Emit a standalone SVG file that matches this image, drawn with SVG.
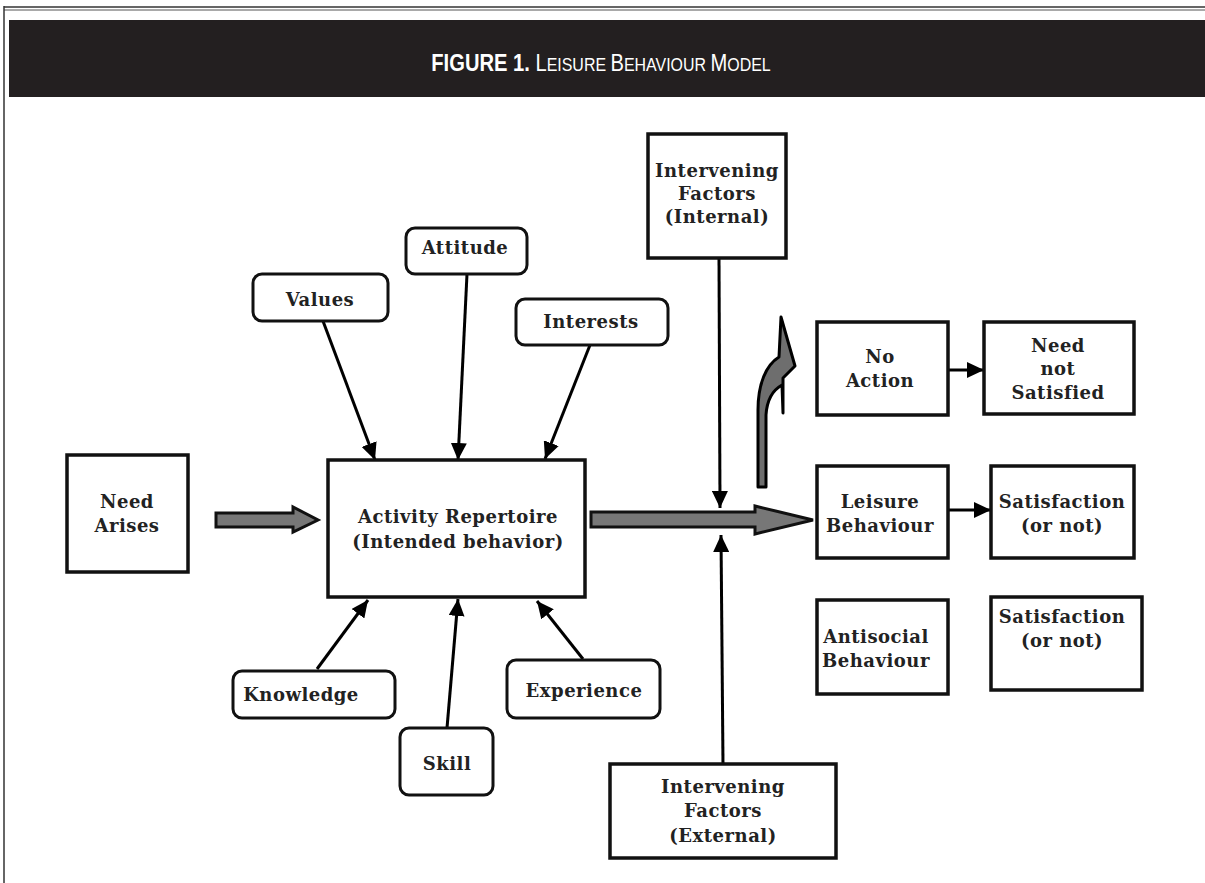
<svg xmlns="http://www.w3.org/2000/svg" width="1205" height="883" viewBox="0 0 1205 883">
<defs>
<marker id="ah" markerUnits="userSpaceOnUse" markerWidth="18" markerHeight="16" refX="17" refY="8" orient="auto">
<path d="M0,0 L17,8 L0,16 z" fill="#000"/>
</marker>
<style>
.box{fill:#fff;stroke:#111;stroke-width:3.5}
.rbox{fill:#fff;stroke:#111;stroke-width:3}
.t{font-family:"DejaVu Serif","Liberation Serif",serif;font-weight:bold;font-size:18px;letter-spacing:0.5px;fill:#222;text-anchor:middle}
.c{stroke:#000;stroke-width:3;fill:none;marker-end:url(#ah)}
.blk{fill:#777;stroke:#111;stroke-width:3;stroke-linejoin:miter}
</style>
</defs>
<rect width="1205" height="883" fill="#fff"/>
<g id="frame">
<line x1="4" y1="7" x2="1205" y2="7" stroke="#333" stroke-width="1.5"/>
<line x1="4" y1="10" x2="1205" y2="10" stroke="#555" stroke-width="1"/>
<line x1="4" y1="6" x2="4" y2="883" stroke="#333" stroke-width="1.5"/>
<rect x="9" y="20" width="1196" height="77" fill="#231f20"/>
<text transform="translate(601,71) scale(0.84,1)" x="0" y="0" fill="#fff" font-family="Liberation Sans, Arial, sans-serif" text-anchor="middle"><tspan font-weight="bold" font-size="24">FIGURE 1.</tspan><tspan font-size="24"> L</tspan><tspan font-size="19">EISURE </tspan><tspan font-size="24">B</tspan><tspan font-size="19">EHAVIOUR </tspan><tspan font-size="24">M</tspan><tspan font-size="19">ODEL</tspan></text>
</g>
<g id="connectors">
<polygon class="blk" points="216,513 293,513 293,507 318,520 293,532 293,527 216,527"/>
<polygon class="blk" points="591,512 755,512 755,506 813,520 755,534 755,527 591,527"/>
<path d="M758 487 L758 410 C758 384 766 365 779 357 L781 317 L795 366 L783 378 L783 413 L782 385 C773 390 767 399 766 415 L766 487 Z" fill="#6e6e6e" stroke="#000" stroke-width="3" stroke-linejoin="round"/>
<line class="c" x1="323" y1="321" x2="375" y2="460"/>
<line class="c" x1="467" y1="274" x2="458" y2="460"/>
<line class="c" x1="590" y1="345" x2="545" y2="459"/>
<line class="c" x1="317" y1="669" x2="368" y2="600"/>
<line class="c" x1="447" y1="728" x2="458" y2="599"/>
<line class="c" x1="583" y1="659" x2="537" y2="601"/>
<line class="c" x1="719" y1="258" x2="720" y2="508"/>
<line class="c" x1="723" y1="764" x2="721" y2="535"/>
<line class="c" x1="948" y1="370" x2="984" y2="370"/>
<line class="c" x1="948" y1="510" x2="991" y2="510"/>
</g>
<g id="need-arises"><rect class="box" x="67" y="455" width="121" height="117"/><text class="t" x="127" y="508">Need</text><text class="t" x="127" y="532">Arises</text></g>
<g id="activity"><rect class="box" x="328" y="460" width="257" height="137"/><text class="t" x="458" y="523">Activity Repertoire</text><text class="t" x="458" y="548">(Intended behavior)</text></g>
<g id="values"><rect class="rbox" x="253" y="274" width="135" height="47" rx="9"/><text class="t" x="320" y="306">Values</text></g>
<g id="attitude"><rect class="rbox" x="406" y="228" width="121" height="46" rx="9"/><text class="t" x="465" y="254">Attitude</text></g>
<g id="interests"><rect class="rbox" x="516" y="299" width="152" height="46" rx="9"/><text class="t" x="591" y="328">Interests</text></g>
<g id="knowledge"><rect class="rbox" x="233" y="671" width="162" height="47" rx="9"/><text class="t" x="301" y="701">Knowledge</text></g>
<g id="skill"><rect class="rbox" x="400" y="728" width="93" height="67" rx="9"/><text class="t" x="447" y="770">Skill</text></g>
<g id="experience"><rect class="rbox" x="507" y="660" width="153" height="58" rx="9"/><text class="t" x="584" y="697">Experience</text></g>
<g id="internal"><rect class="box" x="648" y="134" width="138" height="124"/><text class="t" x="717" y="177">Intervening</text><text class="t" x="717" y="200">Factors</text><text class="t" x="717" y="223">(Internal)</text></g>
<g id="external"><rect class="box" x="610" y="764" width="226" height="94"/><text class="t" x="723" y="793">Intervening</text><text class="t" x="723" y="817">Factors</text><text class="t" x="723" y="842">(External)</text></g>
<g id="no-action"><rect class="box" x="817" y="322" width="131" height="93"/><text class="t" x="880" y="363">No</text><text class="t" x="880" y="387">Action</text></g>
<g id="need-not-satisfied"><rect class="box" x="984" y="322" width="150" height="92"/><text class="t" x="1058" y="352">Need</text><text class="t" x="1058" y="375">not</text><text class="t" x="1058" y="399">Satisfied</text></g>
<g id="leisure"><rect class="box" x="817" y="466" width="131" height="92"/><text class="t" x="880" y="508">Leisure</text><text class="t" x="880" y="532">Behaviour</text></g>
<g id="satisfaction1"><rect class="box" x="991" y="466" width="143" height="92"/><text class="t" x="1062" y="508">Satisfaction</text><text class="t" x="1062" y="532">(or not)</text></g>
<g id="antisocial"><rect class="box" x="817" y="600" width="131" height="94"/><text class="t" x="876" y="643">Antisocial</text><text class="t" x="876" y="667">Behaviour</text></g>
<g id="satisfaction2"><rect class="box" x="991" y="597" width="151" height="93"/><text class="t" x="1062" y="623">Satisfaction</text><text class="t" x="1062" y="647">(or not)</text></g>
</svg>
